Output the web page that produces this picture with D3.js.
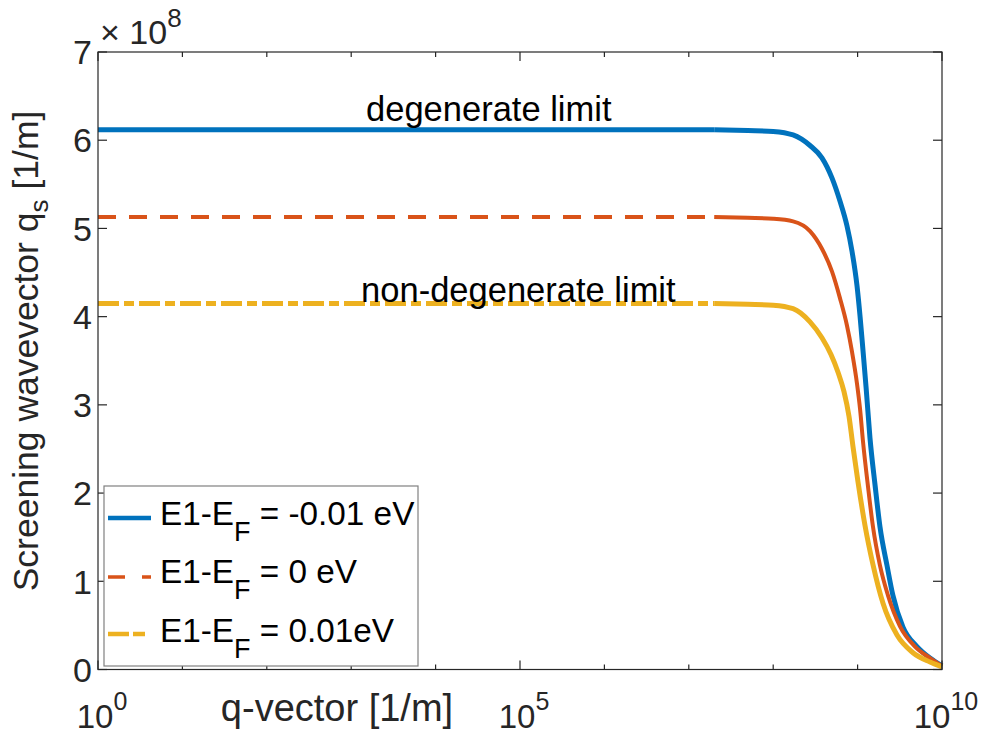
<!DOCTYPE html>
<html>
<head>
<meta charset="utf-8">
<script src="https://cdn.jsdelivr.net/npm/d3@7"></script>
<style>
  html, body { margin: 0; padding: 0; background: #fff; }
  svg { display: block; font-family: "Liberation Sans", Arial, Helvetica, sans-serif; }
</style>
</head>
<body>
<svg id="chart" width="985" height="742"></svg>
<script>
// ---------- data (y values in units of 1e8 1/m) ----------
const qBlue = [1, 1e3, 1e6, 2e7, 5e7, 1e8, 1.72e8, 2.73e8, 3.78e8, 4.98e8, 6.18e8, 7.48e8, 8.59e8, 9.84e8,
               1.07e9, 1.16e9, 1.26e9, 1.40e9, 1.61e9, 1.84e9, 2.23e9, 2.62e9, 3.45e9, 5.06e9, 7.21e9, 1e10];
const vBlue = [6.12, 6.12, 6.12, 6.12, 6.11, 6.10, 6.06, 5.94, 5.80, 5.57, 5.31, 5.03, 4.74, 4.35,
               4.00, 3.61, 3.20, 2.63, 2.09, 1.62, 1.18, 0.84, 0.48, 0.26, 0.13, 0.04];

const qOrange = [1, 1e3, 1e6, 2e7, 5e7, 1e8, 1.72e8, 2.73e8, 3.78e8, 4.98e8, 6.18e8, 7.48e8, 8.59e8, 9.84e8,
                 1.07e9, 1.16e9, 1.33e9, 1.52e9, 1.84e9, 2.29e9, 3.18e9, 4.79e9, 7.21e9, 1e10];
const vOrange = [5.13, 5.13, 5.13, 5.13, 5.12, 5.11, 5.08, 4.97, 4.77, 4.51, 4.21, 3.90, 3.60, 3.24,
                 2.95, 2.58, 2.07, 1.62, 1.18, 0.84, 0.49, 0.26, 0.13, 0.04];

const qYellow = [1, 1e3, 1e6, 2e7, 5e7, 1e8, 1.72e8, 2.73e8, 3.78e8, 4.84e8, 5.86e8, 6.90e8, 7.91e8, 8.81e8,
                 1.01e9, 1.22e9, 1.52e9, 2.0e9, 2.93e9, 4.53e9, 7.21e9, 1e10];
const vYellow = [4.15, 4.15, 4.15, 4.15, 4.14, 4.13, 4.09, 3.94, 3.76, 3.57, 3.37, 3.15, 2.87, 2.53,
                 2.13, 1.64, 1.19, 0.75, 0.39, 0.19, 0.085, 0.03];

const seriesNames = ["E1-E|F| = -0.01 eV", "E1-E|F| = 0 eV", "E1-E|F| = 0.01eV"];
const yTickValues = [0, 1, 2, 3, 4, 5, 6, 7];
const xMajorExp = [0, 5, 10];
const xMinorExp = [1, 2, 3, 4, 6, 7, 8, 9];
const yScaleExp = 8;
const annotations = [
  { text: "degenerate limit", q: 1.5e3, v: 6.217 },
  { text: "non-degenerate limit", q: 1.31e3, v: 4.17 }
];

// ---------- layout ----------
const svg = d3.select("#chart");
const L = 98, R = 942, T = 52, B = 669.5;
const axisColor = "#262626";

const x = d3.scaleLog().domain([1, 1e10]).range([L, R]);
const y = d3.scaleLinear().domain([0, 7]).range([B, T]);

const styles = [
  { color: "#0072BD", width: 5, dash: null },
  { color: "#D95319", width: 4, dash: "18,13" },
  { color: "#EDB120", width: 5, dash: "21,5,10,5" }
];
const series = [
  { q: qBlue, v: vBlue },
  { q: qOrange, v: vOrange },
  { q: qYellow, v: vYellow }
];
const splitQ = 2e7; // dashed flat part / densely sampled (solid-looking) part

const line = d3.line().x(d => x(d[0])).y(d => y(d[1])).curve(d3.curveMonotoneX);

const plotG = svg.append("g");
series.forEach((s, i) => {
  const pts = s.q.map((q, k) => [q, s.v[k]]);
  const flat = pts.filter(p => p[0] <= splitQ);
  const drop = pts.filter(p => p[0] >= splitQ);
  const st = styles[i];
  plotG.append("path").attr("d", line(flat)).attr("fill", "none")
    .attr("stroke", st.color).attr("stroke-width", st.width)
    .attr("stroke-dasharray", st.dash);
  plotG.append("path").attr("d", line(drop)).attr("fill", "none")
    .attr("stroke", st.color).attr("stroke-width", st.width)
    .attr("stroke-linejoin", "round");
});

// ---------- axes box ----------
svg.append("rect").attr("x", L).attr("y", T).attr("width", R - L).attr("height", B - T)
  .attr("fill", "none").attr("stroke", axisColor).attr("stroke-width", 1.2);

const axG = svg.append("g");
yTickValues.forEach(v => {
  const yy = y(v);
  axG.append("line").attr("x1", L).attr("x2", L + 9).attr("y1", yy).attr("y2", yy)
    .attr("stroke", axisColor).attr("stroke-width", 1.2);
  axG.append("line").attr("x1", R).attr("x2", R - 9).attr("y1", yy).attr("y2", yy)
    .attr("stroke", axisColor).attr("stroke-width", 1.2);
  axG.append("text").attr("x", L - 6).attr("y", yy).attr("dy", "0.36em")
    .attr("text-anchor", "end").attr("font-size", 34).attr("fill", axisColor).text(v);
});

xMajorExp.concat(xMinorExp).forEach(e => {
  const xx = x(Math.pow(10, e));
  const len = xMajorExp.includes(e) ? 9 : 5;
  axG.append("line").attr("x1", xx).attr("x2", xx).attr("y1", B).attr("y2", B - len)
    .attr("stroke", axisColor).attr("stroke-width", 1.2);
  axG.append("line").attr("x1", xx).attr("x2", xx).attr("y1", T).attr("y2", T + len)
    .attr("stroke", axisColor).attr("stroke-width", 1.2);
});
xMajorExp.forEach(e => {
  const xx = x(Math.pow(10, e));
  const t = axG.append("text").attr("x", xx + 4).attr("y", 728).attr("text-anchor", "middle")
    .attr("font-size", 33).attr("fill", axisColor);
  t.append("tspan").text("10");
  t.append("tspan").attr("dy", -18).attr("font-size", 25).text(e);
});

const mult = svg.append("text").attr("x", 100).attr("y", 44).attr("font-size", 34).attr("fill", axisColor);
mult.append("tspan").text("\u00d7 10");
mult.append("tspan").attr("dy", -17).attr("font-size", 26).text(yScaleExp);

svg.append("text").attr("x", 337).attr("y", 721).attr("text-anchor", "middle")
  .attr("font-size", 38).attr("fill", axisColor).text("q-vector [1/m]");

const yl = svg.append("text").attr("transform", "translate(38,351) rotate(-90)")
  .attr("text-anchor", "middle").attr("font-size", 35.5).attr("fill", axisColor);
yl.append("tspan").text("Screening wavevector q");
yl.append("tspan").attr("dy", 10).attr("font-size", 26).text("s");
yl.append("tspan").attr("dy", -10).text(" [1/m]");

annotations.forEach(a => {
  svg.append("text").attr("x", x(a.q)).attr("y", y(a.v))
    .attr("font-size", 34.5).attr("fill", "#000").text(a.text);
});

// ---------- legend ----------
const lg = svg.append("g");
lg.append("rect").attr("x", 104).attr("y", 486).attr("width", 314).attr("height", 180)
  .attr("fill", "#fff").attr("stroke", "#808080").attr("stroke-width", 1.2);
const rowY = [518, 577, 634];
const baseY = [525, 583, 642];
seriesNames.forEach((name, i) => {
  const st = styles[i];
  lg.append("line").attr("x1", 108).attr("x2", 151).attr("y1", rowY[i]).attr("y2", rowY[i])
    .attr("stroke", st.color).attr("stroke-width", st.width - 0.5)
    .attr("stroke-dasharray", i === 1 ? "17,17" : (i === 2 ? "21,4,12,6" : null));
  const parts = name.split("|");
  const t = lg.append("text").attr("x", 160).attr("y", baseY[i]).attr("font-size", 33.3).attr("fill", "#000");
  t.append("tspan").text(parts[0]);
  t.append("tspan").attr("dy", 16).attr("font-size", 27).text(parts[1]);
  t.append("tspan").attr("dy", -16).text(parts[2]);
});
</script>
</body>
</html>
